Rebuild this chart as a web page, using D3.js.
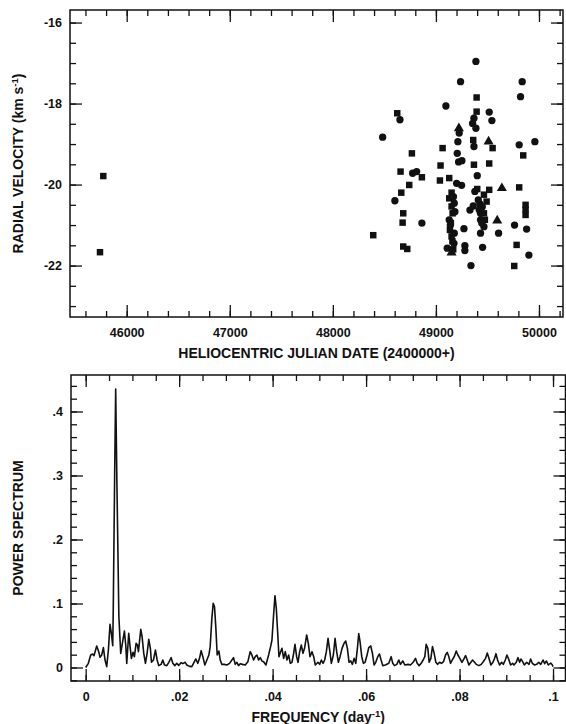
<!DOCTYPE html>
<html>
<head>
<meta charset="utf-8">
<script src="https://cdn.jsdelivr.net/npm/d3@7"></script>
<style>
  body { margin: 0; background: #fff; }
  svg text { font-family: "Liberation Sans", Arial, Helvetica, sans-serif; fill: #111; font-weight: bold; }
</style>
</head>
<body>
<div id="chart"></div>
<script>
// Data_________________________________________________________
// radial velocities, [HJD - 2400000, km/s], by symbol
const squares = [
  [45773, -19.79], [45741, -21.67], [48625, -18.24], [49395, -17.85], [49395, -18.20],
  [49362, -18.90], [49550, -19.10], [48767, -19.23], [49065, -19.10], [49847, -19.28],
  [49045, -19.53], [49369, -19.51], [49517, -19.48], [48657, -19.68], [48864, -19.82],
  [49039, -19.90], [49129, -19.84], [48741, -20.01], [48664, -20.20], [49401, -20.11],
  [49517, -20.13], [49808, -20.07], [48683, -20.71], [48677, -20.94], [49870, -20.50],
  [49870, -20.62], [49870, -20.75], [48392, -21.25], [48683, -21.53], [48722, -21.59],
  [49783, -21.49], [49760, -22.01], [49152, -20.20], [49129, -20.34], [49152, -20.54],
  [49162, -20.71], [49136, -21.12], [49152, -21.28], [49168, -21.60], [49466, -20.25],
  [49492, -20.42], [49475, -20.87], [49466, -20.71], [49145, -20.95], [49160, -21.40]
];
const circles = [
  [49388, -16.96], [49239, -17.46], [49837, -17.46], [49821, -17.83], [49097, -18.06],
  [48651, -18.40], [49517, -18.21], [49543, -18.42], [49369, -18.36], [49356, -18.49],
  [49388, -18.61], [48483, -18.83], [49226, -18.73], [49213, -18.94], [49369, -19.06],
  [49808, -19.02], [49960, -18.94], [49207, -19.23], [49220, -19.44], [49252, -19.41],
  [48774, -19.72], [48813, -19.68], [49401, -19.78], [49201, -19.97], [49249, -20.02],
  [49378, -20.17], [48602, -20.40], [48864, -20.95], [49608, -21.20], [49763, -21.00],
  [49880, -21.10], [49272, -21.09], [49281, -21.51], [49281, -21.63], [49453, -21.55],
  [49902, -21.74], [49340, -22.00], [49178, -20.46], [49184, -20.67], [49129, -20.87],
  [49178, -21.20], [49110, -21.57], [49427, -20.48], [49362, -20.53], [49330, -20.63],
  [49433, -20.71], [49433, -20.87], [49466, -21.04], [49433, -21.20], [49411, -20.38],
  [49170, -20.30], [49140, -21.00], [49175, -21.45], [49450, -20.55], [49445, -20.95],
  [49420, -20.62]
];
const triangles = [
  [49223, -18.61], [49511, -18.94], [49640, -20.09], [49595, -20.89], [49152, -21.68]
];

// power spectrum, [frequency (1/day), power]
const spectrum = [
  [0, 0], [0.00057, 0.0065], [0.00107, 0.0195], [0.0015, 0.021], [0.00179, 0.0185],
  [0.00236, 0.0336], [0.00279, 0.0247], [0.00307, 0.0159], [0.00343, 0.0195], [0.00379, 0.031],
  [0.00414, 0.0117], [0.0045, 0.0013], [0.00486, 0.0273], [0.00521, 0.0674], [0.0055, 0.0534],
  [0.00579, 0.0341], [0.0059, 0.09], [0.0062, 0.30], [0.00642, 0.435], [0.0067, 0.28],
  [0.0071, 0.08], [0.0075, 0.022], [0.00829, 0.057], [0.00857, 0.0352], [0.00879, 0.0065],
  [0.00921, 0.0534], [0.0095, 0.0326], [0.00979, 0.0143], [0.01014, 0.0237], [0.01043, 0.0169],
  [0.01079, 0.0378], [0.01107, 0.0352], [0.01129, 0.0247], [0.01179, 0.0596], [0.01207, 0.0482],
  [0.01243, 0.0221], [0.01279, 0.0065], [0.01314, 0.0221], [0.0135, 0.044], [0.01386, 0.0289],
  [0.01407, 0.0081], [0.0145, 0.0117], [0.01493, 0.0273], [0.01529, 0.0117], [0.01564, 0.0029],
  [0.01614, 0.0049], [0.0165, 0.0117], [0.01686, 0.0039], [0.01736, 0.0029], [0.01779, 0.0081],
  [0.01829, 0.0154], [0.01864, 0.0065], [0.01907, 0.0029], [0.0195, 0.0065], [0.01993, 0.0034],
  [0.02043, 0.0076], [0.02079, 0.006], [0.02129, 0.0081], [0.02164, 0.0039], [0.02221, 0.0018],
  [0.02271, 0.0013], [0.02307, 0.0065], [0.02357, 0.0133], [0.024, 0.0065], [0.02436, 0.0143],
  [0.02471, 0.0263], [0.02507, 0.0169], [0.0255, 0.0039], [0.02593, 0.0117], [0.02636, 0.0195],
  [0.02664, 0.0326], [0.027, 0.0768], [0.02729, 0.1003], [0.02757, 0.095], [0.02786, 0.0612],
  [0.02814, 0.0195], [0.0285, 0.0258], [0.02879, 0.0117], [0.02914, 0.0049], [0.02964, 0.0049],
  [0.03021, 0.0039], [0.03079, 0.0065], [0.03129, 0.0117], [0.03164, 0.0154], [0.032, 0.0049],
  [0.03236, 0.0081], [0.03271, 0.0029], [0.03307, 0.006], [0.03357, 0.0049], [0.03414, 0.0039],
  [0.03471, 0.0091], [0.03521, 0.0247], [0.03557, 0.0195], [0.03593, 0.0117], [0.03629, 0.0169],
  [0.03664, 0.0195], [0.037, 0.0117], [0.03736, 0.0154], [0.03771, 0.0102], [0.03807, 0.0091],
  [0.03857, 0.0039], [0.03914, 0.0195], [0.03957, 0.0326], [0.03986, 0.043], [0.04021, 0.082],
  [0.0405, 0.1122], [0.04079, 0.0924], [0.04107, 0.056], [0.04136, 0.0169], [0.04171, 0.0247],
  [0.042, 0.0299], [0.04236, 0.0143], [0.04271, 0.0247], [0.04307, 0.0117], [0.04343, 0.0195],
  [0.04379, 0.0065], [0.04414, 0.0081], [0.0445, 0.0221], [0.04479, 0.0362], [0.04514, 0.0169],
  [0.04543, 0.0081], [0.04579, 0.0247], [0.04614, 0.0352], [0.0465, 0.0221], [0.04686, 0.031],
  [0.04729, 0.0508], [0.04764, 0.0378], [0.048, 0.0169], [0.04843, 0.0247], [0.04879, 0.0169],
  [0.04914, 0.0039], [0.04971, 0.0081], [0.05007, 0.0049], [0.05043, 0.0117], [0.05079, 0.0065],
  [0.05114, 0.0117], [0.0515, 0.0247], [0.05186, 0.0456], [0.05221, 0.0273], [0.05257, 0.0065],
  [0.053, 0.0195], [0.05336, 0.0456], [0.05371, 0.0247], [0.05407, 0.0081], [0.05443, 0.0169],
  [0.05486, 0.0299], [0.05529, 0.0378], [0.05564, 0.0414], [0.056, 0.0299], [0.05636, 0.0081],
  [0.05671, 0.0102], [0.05707, 0.0049], [0.05743, 0.0143], [0.05779, 0.0065], [0.05814, 0.0299],
  [0.05843, 0.0529], [0.05871, 0.0404], [0.05907, 0.0169], [0.05943, 0.0065], [0.05979, 0.0081],
  [0.06021, 0.0195], [0.06057, 0.031], [0.061, 0.0336], [0.06136, 0.0221], [0.06171, 0.0039],
  [0.06207, 0.0081], [0.0625, 0.0169], [0.06286, 0.0211], [0.06321, 0.0117], [0.06357, 0.0029],
  [0.06414, 0.0039], [0.06486, 0.0065], [0.06536, 0.0169], [0.06571, 0.0065], [0.06607, 0.0029],
  [0.06657, 0.0049], [0.067, 0.0117], [0.06736, 0.0049], [0.06786, 0.0102], [0.06829, 0.0039],
  [0.069, 0.0049], [0.0695, 0.0039], [0.07007, 0.0081], [0.07057, 0.0143], [0.07093, 0.0065],
  [0.07136, 0.0029], [0.07179, 0.0065], [0.07221, 0.0117], [0.07257, 0.0169], [0.07286, 0.0362],
  [0.07321, 0.0299], [0.0735, 0.0081], [0.07386, 0.0143], [0.07421, 0.0326], [0.07457, 0.0221],
  [0.07493, 0.0081], [0.07529, 0.0049], [0.07571, 0.0081], [0.07614, 0.0065], [0.07657, 0.0091],
  [0.077, 0.0195], [0.07736, 0.0237], [0.07771, 0.0169], [0.07807, 0.0065], [0.07843, 0.0117],
  [0.07886, 0.0169], [0.07929, 0.0258], [0.07964, 0.0195], [0.08007, 0.0143], [0.0805, 0.0081],
  [0.08093, 0.0133], [0.08129, 0.0185], [0.08164, 0.0117], [0.082, 0.0039], [0.08243, 0.0081],
  [0.08279, 0.0117], [0.08321, 0.0081], [0.08357, 0.0049], [0.08414, 0.0029], [0.08464, 0.0049],
  [0.08507, 0.0091], [0.08557, 0.0143], [0.08593, 0.0227], [0.08629, 0.0143], [0.08671, 0.0039],
  [0.08714, 0.0081], [0.0875, 0.0143], [0.08779, 0.0216], [0.08814, 0.0117], [0.08857, 0.0039],
  [0.089, 0.0081], [0.08936, 0.0049], [0.08979, 0.0117], [0.09014, 0.0195], [0.0905, 0.0133],
  [0.09093, 0.0039], [0.09136, 0.0065], [0.09164, 0.0039], [0.09214, 0.0081], [0.0925, 0.0154],
  [0.09286, 0.0081], [0.09314, 0.0133], [0.0935, 0.0091], [0.09386, 0.0039], [0.09436, 0.0081],
  [0.09486, 0.0049], [0.09521, 0.0133], [0.09557, 0.0065], [0.09607, 0.0039], [0.0965, 0.0049],
  [0.09693, 0.0081], [0.09736, 0.0049], [0.09786, 0.0117], [0.09821, 0.006], [0.09857, 0.0102],
  [0.099, 0.0039], [0.0995, 0.007], [0.09986, 0.0039], [0.1, 0.0013]
];

// tick labels
const dateTicks = [46000, 47000, 48000, 49000, 50000];
const velTicks = [-16, -18, -20, -22];
const freqTicks = [0, 0.02, 0.04, 0.06, 0.08, 0.1];
const powerTicks = [0, 0.1, 0.2, 0.3, 0.4];

// Layout_______________________________________________________
const width = 566, height = 724;
const box1 = { left: 70, right: 563, top: 10, bottom: 317 };
const box2 = { left: 71, right: 565.5, top: 375, bottom: 681 };
const majorLen = 12, minorLen = 6;
const labelSize = '12.5px', titleSize = '14px';

const svg = d3.select('#chart')
  .append('svg')
  .attr('width', width)
  .attr('height', height);

const x1 = d3.scaleLinear().domain([45450, 50233]).range([box1.left, box1.right]);
const y1 = d3.scaleLinear().domain([-23.27, -15.69]).range([box1.bottom, box1.top]);
const x2 = d3.scaleLinear().domain([-0.00314, 0.10267]).range([box2.left, box2.right]);
const y2 = d3.scaleLinear().domain([-0.0211, 0.457]).range([box2.bottom, box2.top]);

// "0.02" -> ".02"
const noDot = d => d === 0 ? '0' : String(+d.toFixed(3)).replace(/^(-?)0\./, '$1.');

// draws inward ticks on all four sides of a panel, then the frame
function frame(box, x, y, xMajor, xMinor, yMajor, yMinor, xFmt, yFmt) {
  const g = svg.append('g');
  const sides = [
    [d3.axisBottom(x), `translate(0,${box.bottom})`, xMajor, xMinor, xFmt, 11],
    [d3.axisTop(x), `translate(0,${box.top})`, xMajor, xMinor, null, 0],
    [d3.axisLeft(y), `translate(${box.left},0)`, yMajor, yMinor, yFmt, 8],
    [d3.axisRight(y), `translate(${box.right},0)`, yMajor, yMinor, null, 0]
  ];
  sides.forEach(([ax, tr, major, minor, fmt, pad]) => {
    g.append('g').attr('transform', tr)
      .call(ax.tickValues(minor).tickSize(-minorLen).tickFormat(''))
      .call(a => a.select('.domain').remove());
    const maj = g.append('g').attr('transform', tr)
      .call(ax.tickValues(major).tickSize(-majorLen)
        .tickPadding(pad)
        .tickFormat(fmt ? fmt : ''));
    maj.select('.domain').remove();
    maj.attr('font-family', null).attr('font-size', null);
    maj.selectAll('text').style('font-size', labelSize);
  });
  g.selectAll('.tick line').attr('stroke', '#111').attr('stroke-width', 1.3);
  g.append('rect')
    .attr('x', box.left).attr('y', box.top)
    .attr('width', box.right - box.left).attr('height', box.bottom - box.top)
    .attr('fill', 'none').attr('stroke', '#111').attr('stroke-width', 1.5);
}

// Top panel_____________________________________________________
frame(box1, x1, y1,
  dateTicks, d3.range(45600, 50201, 200),
  velTicks, d3.range(-23, -15.7, 0.5),
  d => d, d => d);

const symbols = [
  [squares, d3.symbolSquare, 42],
  [circles, d3.symbolCircle, 42],
  [triangles, d3.symbolTriangle, 44]
];
symbols.forEach(([data, type, size]) => {
  svg.append('g').selectAll('path')
    .data(data)
    .enter()
    .append('path')
    .attr('transform', d => `translate(${x1(d[0])},${y1(d[1])})`)
    .attr('d', d3.symbol().type(type).size(size))
    .attr('fill', '#111');
});

svg.append('text')
  .attr('x', (box1.left + box1.right) / 2)
  .attr('y', 358)
  .attr('text-anchor', 'middle')
  .style('font-size', titleSize)
  .text('HELIOCENTRIC JULIAN DATE (2400000+)');

const vTitle = svg.append('text')
  .attr('transform', `translate(23,${(box1.top + box1.bottom) / 2}) rotate(-90)`)
  .attr('text-anchor', 'middle')
  .style('font-size', titleSize);
vTitle.append('tspan').text('RADIAL VELOCITY (km s');
vTitle.append('tspan').attr('dy', -5).style('font-size', '9.5px').text('-1');
vTitle.append('tspan').attr('dy', 5).text(')');

// Bottom panel__________________________________________________
frame(box2, x2, y2,
  freqTicks, d3.range(0, 0.1001, 0.005),
  powerTicks, d3.range(-0.02, 0.4501, 0.02),
  noDot, noDot);

svg.append('path')
  .datum(spectrum)
  .attr('fill', 'none')
  .attr('stroke', '#111')
  .attr('stroke-width', 1.6)
  .attr('stroke-linejoin', 'round')
  .attr('d', d3.line().x(d => x2(d[0])).y(d => y2(d[1])));

const fTitle = svg.append('text')
  .attr('x', (box2.left + box2.right) / 2)
  .attr('y', 721.5)
  .attr('text-anchor', 'middle')
  .style('font-size', titleSize);
fTitle.append('tspan').text('FREQUENCY (day');
fTitle.append('tspan').attr('dy', -5).style('font-size', '9.5px').text('-1');
fTitle.append('tspan').attr('dy', 5).text(')');

svg.append('text')
  .attr('transform', `translate(23,${(box2.top + box2.bottom) / 2}) rotate(-90)`)
  .attr('text-anchor', 'middle')
  .style('font-size', titleSize)
  .text('POWER SPECTRUM');
</script>
</body>
</html>
